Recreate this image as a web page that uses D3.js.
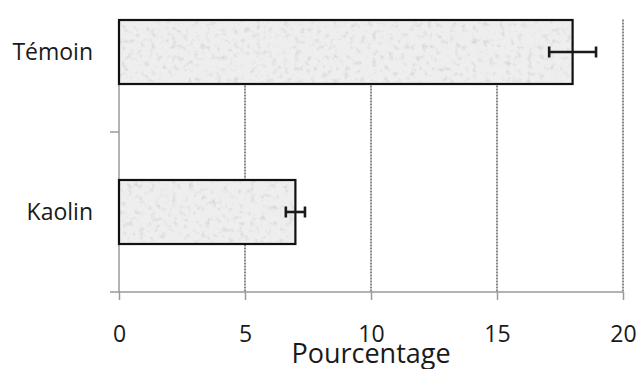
<!DOCTYPE html>
<html><head><meta charset="utf-8">
<script src="https://cdn.jsdelivr.net/npm/d3@7"></script>
<style>html,body{margin:0;padding:0;background:#fff;}svg{display:block;font-family:"Open Sans",sans-serif;}</style>
</head><body>
<script>
const categories = ["Témoin", "Kaolin"];
const values = [18, 7];
const errors = [0.93, 0.38];
const xTicks = [0, 5, 10, 15, 20];
const xTitle = "Pourcentage";

const W = 637, H = 369;
const svg = d3.select("body").append("svg").attr("width", W).attr("height", H);

const defs = svg.append("defs");
const f = defs.append("filter").attr("id", "grain").attr("x", 0).attr("y", 0).attr("width", 1).attr("height", 1);
f.append("feTurbulence").attr("type", "fractalNoise").attr("baseFrequency", 0.18).attr("numOctaves", 3).attr("seed", 3).attr("result", "n");
f.append("feColorMatrix").attr("in", "n").attr("type", "matrix")
  .attr("values", "0 0 0 0 0.6  0 0 0 0 0.6  0 0 0 0 0.6  1.8 0 0 0 -0.95").attr("result", "c");
f.append("feComposite").attr("in", "c").attr("in2", "SourceGraphic").attr("operator", "in");

const x = d3.scaleLinear().domain([0, 20]).range([119, 623]);
const y = d3.scaleBand().domain(categories).range([-28, 292]).paddingInner(0.6).paddingOuter(0.3);
const plotTop = y(categories[0]);
const plotBottom = 292;

// gridlines
svg.append("g").selectAll("line").data(xTicks.filter(d => d > 0)).join("line")
  .attr("x1", d => x(d)).attr("x2", d => x(d))
  .attr("y1", plotTop - 0.5).attr("y2", plotBottom)
  .attr("stroke", "#111").attr("stroke-width", 1).attr("stroke-dasharray", "2,1");

// x axis
const xa = svg.append("g").attr("transform", `translate(0,${plotBottom})`)
  .call(d3.axisBottom(x).tickValues(xTicks).tickSize(8).tickPadding(26).tickSizeOuter(0));
xa.select(".domain").remove();
xa.selectAll(".tick line").attr("stroke", "#9a9a9a").attr("stroke-width", 1.5);
xa.selectAll(".tick text").attr("font-size", 23).attr("fill", "#1a1a1a").attr("font-family", "Open Sans");
svg.append("line").attr("x1", 110).attr("x2", x(20)).attr("y1", plotBottom).attr("y2", plotBottom)
  .attr("stroke", "#9a9a9a").attr("stroke-width", 1.5);

// y axis
svg.append("line").attr("x1", x(0)).attr("x2", x(0)).attr("y1", plotTop).attr("y2", plotBottom)
  .attr("stroke", "#9a9a9a").attr("stroke-width", 1.5);
const boundaries = categories.slice(1).map(c => y(c) - y.step() * y.paddingInner() / 2);
svg.append("g").selectAll("line").data(boundaries).join("line")
  .attr("x1", x(0) - 9).attr("x2", x(0)).attr("y1", d => d).attr("y2", d => d)
  .attr("stroke", "#9a9a9a").attr("stroke-width", 1.5);

// bars
const bars = svg.append("g").selectAll("g").data(categories).join("g");
bars.append("rect").attr("x", x(0)).attr("y", d => y(d))
  .attr("width", (d, i) => x(values[i]) - x(0)).attr("height", y.bandwidth())
  .attr("fill", "#eeeeee");
bars.append("rect").attr("x", x(0)).attr("y", d => y(d))
  .attr("width", (d, i) => x(values[i]) - x(0)).attr("height", y.bandwidth())
  .attr("fill", "#fff").attr("filter", "url(#grain)");
bars.append("rect").attr("x", x(0)).attr("y", d => y(d))
  .attr("width", (d, i) => x(values[i]) - x(0)).attr("height", y.bandwidth())
  .attr("fill", "none").attr("stroke", "#111").attr("stroke-width", 2.2);

// error bars
const eb = svg.append("g").selectAll("g").data(categories).join("g")
  .attr("stroke", "#1a1a1a").attr("stroke-width", 2.6);
eb.append("line").attr("x1", (d, i) => x(values[i] - errors[i])).attr("x2", (d, i) => x(values[i] + errors[i]))
  .attr("y1", d => y(d) + y.bandwidth() / 2).attr("y2", d => y(d) + y.bandwidth() / 2);
[-1, 1].forEach(s => {
  eb.append("line").attr("x1", (d, i) => x(values[i] + s * errors[i])).attr("x2", (d, i) => x(values[i] + s * errors[i]))
    .attr("y1", d => y(d) + y.bandwidth() / 2 - 5.5).attr("y2", d => y(d) + y.bandwidth() / 2 + 5.5);
});

// category labels
svg.append("g").selectAll("text").data(categories).join("text")
  .attr("x", 93).attr("y", d => y(d) + y.bandwidth() / 2).attr("dy", "0.36em")
  .attr("text-anchor", "end").attr("font-size", 23).attr("fill", "#1a1a1a").text(d => d);

// title
svg.append("text").attr("x", (x(0) + x(20)) / 2).attr("y", 363).attr("text-anchor", "middle")
  .attr("font-size", 27).attr("fill", "#1a1a1a").text(xTitle);
</script>
</body></html>
